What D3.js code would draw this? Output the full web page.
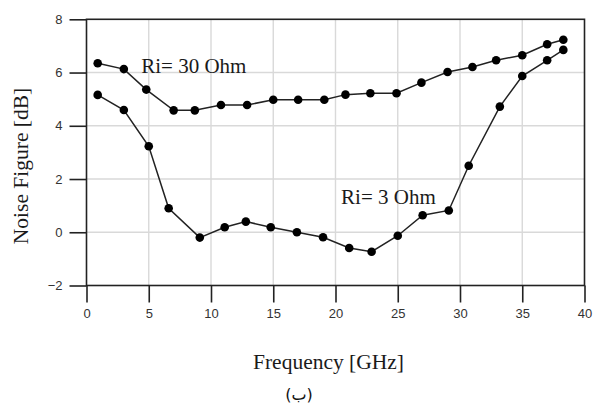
<!DOCTYPE html>
<html>
<head>
<meta charset="utf-8">
<script src="https://cdn.jsdelivr.net/npm/d3@7"></script>
<style>
    body { margin: 0; background: #fff; }
    svg { display: block; }
</style>
</head>
<body>
<svg id="chart"></svg>
<script>
// frequency (GHz) and noise figure (dB)
var freq30 = [0.9, 3.0, 4.8, 7.0, 8.7, 10.8, 12.9, 15.0, 17.0, 19.1, 20.8, 22.8, 24.9, 26.9, 29.0, 31.0, 32.9, 35.0, 37.0, 38.3];
var nf30   = [6.35, 6.13, 5.36, 4.58, 4.58, 4.78, 4.78, 4.98, 4.98, 4.98, 5.17, 5.22, 5.22, 5.62, 6.02, 6.21, 6.46, 6.65, 7.06, 7.23];

var freq3 = [0.9, 3.0, 5.0, 6.6, 9.1, 11.1, 12.8, 14.8, 16.9, 19.0, 21.1, 22.9, 25.0, 27.0, 29.1, 30.7, 33.2, 35.0, 37.0, 38.3];
var nf3   = [5.16, 4.59, 3.23, 0.90, -0.20, 0.19, 0.40, 0.19, 0.0, -0.19, -0.59, -0.73, -0.13, 0.64, 0.82, 2.50, 4.72, 5.87, 6.46, 6.85];

var xTicks = [0, 5, 10, 15, 20, 25, 30, 35, 40];
var yTicks = [-2, 0, 2, 4, 6, 8];

var labels = [
    { text: 'Ri= 30 Ohm', f: 4.4, v: 5.98 },
    { text: 'Ri= 3 Ohm', f: 20.45, v: 1.06 }
];

var svgWidth = 593, svgHeight = 410;
var svg = d3.select('#chart')
    .attr('width', svgWidth)
    .attr('height', svgHeight);

var x = d3.scaleLinear().domain([0, 40]).range([86.5, 584.5]);
var y = d3.scaleLinear().domain([-2, 8]).range([285.5, 19.3]);

var tickFont = '"Liberation Sans", Arial, sans-serif';
var serif = '"Liberation Serif", "Times New Roman", serif';

// grid
svg.append('g')
    .selectAll('line')
    .data(xTicks.slice(1, -1))
    .join('line')
    .attr('x1', d => x(d)).attr('x2', d => x(d))
    .attr('y1', y(8)).attr('y2', y(-2))
    .attr('stroke', '#d9d9d9')
    .attr('stroke-width', 1.4);

svg.append('g')
    .selectAll('line')
    .data(yTicks.slice(1, -1))
    .join('line')
    .attr('x1', x(0)).attr('x2', x(40))
    .attr('y1', d => y(d)).attr('y2', d => y(d))
    .attr('stroke', '#d9d9d9')
    .attr('stroke-width', 1.4);

// frame
svg.append('rect')
    .attr('x', x(0))
    .attr('y', y(8))
    .attr('width', x(40) - x(0))
    .attr('height', y(-2) - y(8))
    .attr('fill', 'none')
    .attr('stroke', '#222')
    .attr('stroke-width', 1.6);

var xAxis = svg.append('g')
    .attr('transform', 'translate(0,' + y(-2) + ')')
    .call(d3.axisBottom(x).tickValues(xTicks).tickSize(17).tickPadding(6));

var yAxis = svg.append('g')
    .attr('transform', 'translate(' + x(0) + ',0)')
    .call(d3.axisLeft(y).tickValues(yTicks).tickSize(17).tickPadding(7));

[xAxis, yAxis].forEach(g => {
    g.select('.domain').remove();
    g.selectAll('.tick line').attr('stroke', '#222').attr('stroke-width', 1.6);
    g.selectAll('.tick text')
        .attr('fill', '#333')
        .style('font-family', tickFont)
        .style('font-size', '13px');
});

// series
var series = [
    freq30.map((f, i) => ({ f: f, v: nf30[i] })),
    freq3.map((f, i) => ({ f: f, v: nf3[i] }))
];

var line = d3.line()
    .x(d => x(d.f))
    .y(d => y(d.v));

series.forEach(data => {
    svg.append('path')
        .datum(data)
        .attr('fill', 'none')
        .attr('stroke', '#222')
        .attr('stroke-width', 1.5)
        .attr('d', line);

    svg.append('g')
        .selectAll('circle')
        .data(data)
        .join('circle')
        .attr('cx', d => x(d.f))
        .attr('cy', d => y(d.v))
        .attr('r', 4.3)
        .attr('fill', '#000');
});

svg.append('g')
    .selectAll('text')
    .data(labels)
    .join('text')
    .attr('x', d => x(d.f))
    .attr('y', d => y(d.v))
    .attr('fill', '#1a1a1a')
    .style('font-family', serif)
    .style('font-size', '21px')
    .text(d => d.text);

// axis titles
svg.append('text')
    .attr('x', 328.5)
    .attr('y', 369)
    .attr('text-anchor', 'middle')
    .attr('fill', '#1a1a1a')
    .style('font-family', serif)
    .style('font-size', '21.5px')
    .text('Frequency [GHz]');

svg.append('text')
    .attr('transform', 'translate(28,166) rotate(-90)')
    .attr('text-anchor', 'middle')
    .attr('fill', '#1a1a1a')
    .style('font-family', serif)
    .style('font-size', '21.5px')
    .text('Noise Figure [dB]');

svg.append('text')
    .attr('x', 299)
    .attr('y', 400)
    .attr('text-anchor', 'middle')
    .attr('fill', '#111')
    .style('font-family', '"DejaVu Sans", sans-serif')
    .style('font-size', '16px')
    .text('(ب)');
</script>
</body>
</html>
